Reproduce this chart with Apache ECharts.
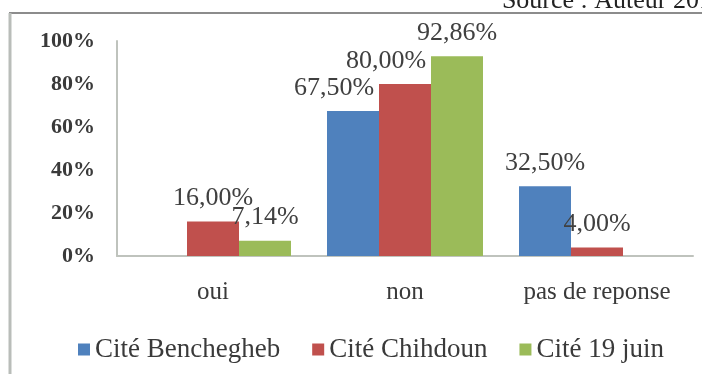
<!DOCTYPE html>
<html>
<head>
<meta charset="utf-8">
<script src="https://cdn.jsdelivr.net/npm/echarts@6/dist/echarts.min.js"></script>
<style>
html, body { margin: 0; padding: 0; background: #fff; }
#chart { width: 702px; height: 374px; }
</style>
</head>
<body>
<div id="chart"></div>
<script>
// categories and series values (percent)
var categories = ['oui', 'non', 'pas de reponse'];
var seriesNames = ['Cité Benchegheb', 'Cité Chihdoun', 'Cité 19 juin'];
var benchegheb = [0, 67.5, 32.5];
var chihdoun = [16, 80, 4];
var juin19 = [7.14, 92.86, 0];
var colors = ['#4f81bd', '#c0504d', '#9bbb59'];
// horizontal nudge of some labels (like the original, to avoid overlaps)
var labelShift = [[0, -19, 0], [0, -19, 0], [0, 0, 0]];

var chart = echarts.init(document.getElementById('chart'));

function pct(v) {
    return v.toFixed(2).replace('.', ',') + '%';
}

function makeSeries(idx, data) {
    var items = [];
    for (var i = 0; i < data.length; i++) {
        items.push({ value: data[i], label: { offset: [labelShift[idx][i], 0] } });
    }
    return {
        name: seriesNames[idx],
        type: 'bar',
        data: items,
        barGap: '0%',
        barCategoryGap: '18.75%',
        itemStyle: { color: colors[idx] },
        label: {
            show: true,
            position: 'top',
            distance: 10,
            fontFamily: 'Liberation Serif',
            fontSize: 26,
            color: '#404040',
            formatter: function (p) {
                return p.value === 0 ? '' : pct(p.value);
            }
        }
    };
}

var option = {
    animation: false,
    backgroundColor: '#fff',
    textStyle: { fontFamily: 'Liberation Serif' },
    grid: { left: 117, right: 9, top: 41, bottom: 118 },
    xAxis: {
        type: 'category',
        data: categories,
        axisTick: { show: false },
        axisLine: { lineStyle: { color: '#bfc3bd', width: 2 } },
        axisLabel: {
            margin: 24,
            fontFamily: 'Liberation Serif',
            fontSize: 25,
            color: '#3a3a3a'
        }
    },
    yAxis: {
        type: 'value',
        min: 0,
        max: 100,
        interval: 20,
        splitLine: { show: false },
        axisTick: { show: false },
        axisLine: { show: true, lineStyle: { color: '#bfc3bd', width: 2 } },
        axisLabel: {
            margin: 22,
            fontFamily: 'Liberation Serif',
            fontSize: 22,
            fontWeight: 'bold',
            color: '#3a3a3a',
            formatter: '{value}%'
        }
    },
    legend: {
        left: 78,
        top: 336,
        padding: 0,
        itemWidth: 12,
        itemHeight: 12,
        itemGap: 32,
        icon: 'rect',
        textStyle: {
            fontFamily: 'Liberation Serif',
            fontSize: 27,
            color: '#3a3a3a'
        },
        data: seriesNames
    },
    graphic: [
        { type: 'line', shape: { x1: 9, y1: 13, x2: 702, y2: 13 }, style: { stroke: '#8c8c8c', lineWidth: 2 } },
        { type: 'line', shape: { x1: 10, y1: 13, x2: 10, y2: 374 }, style: { stroke: '#b9bdb9', lineWidth: 3 } },
        { type: 'text', right: -23, top: -12, style: { text: 'Source : Auteur 2014', font: '26px "Liberation Serif"', fill: '#222' } }
    ],
    series: [
        makeSeries(0, benchegheb),
        makeSeries(1, chihdoun),
        makeSeries(2, juin19)
    ]
};

chart.setOption(option);
</script>
</body>
</html>
